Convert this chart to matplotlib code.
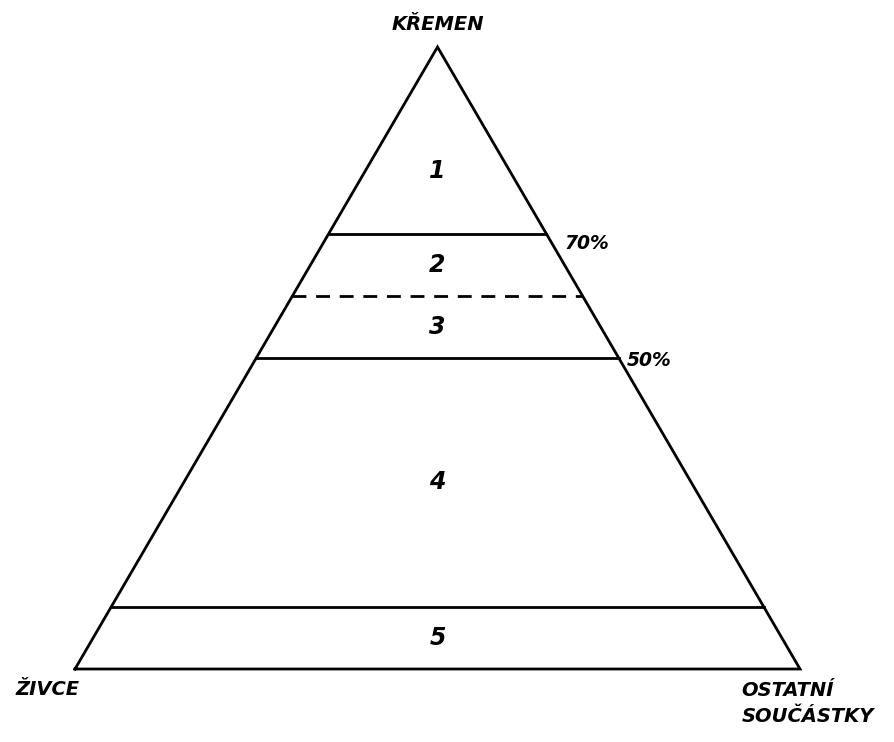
import matplotlib
matplotlib.use("Agg")
import matplotlib.pyplot as plt

# ---- data ----
apex_labels = ["KŘEMEN", "ŽIVCE", "OSTATNÍ\nSOUČÁSTKY"]
boundary_levels = [70, 60, 50, 10]          # quartz % of dividing lines
boundary_dashed = [False, True, False, False]
labelled_levels = [70, 50]                  # levels with a % label
region_names = ["1", "2", "3", "4", "5"]

# ---- style / layout ----
pct_offsets = [(13, -7), (6, -2)]           # label offsets in points

W, H = 895, 742
fig = plt.figure(figsize=(W / 100, H / 100), dpi=100)
L, R, B, T = 75, 800, 669, 47
ax = fig.add_axes([L / W, 1 - B / H, (R - L) / W, (B - T) / H])
ax.set_xlim(0, 1)
ax.set_ylim(0, 1)
ax.axis("off")

lw = 2.0
font = dict(family="DejaVu Sans", style="italic", weight="bold", color="black")

# triangle outline
ax.plot([0, 1, 0.5, 0], [0, 0, 1, 0], color="black", lw=lw, clip_on=False,
        solid_joinstyle="miter")

# dividing lines
for lev, dashed in zip(boundary_levels, boundary_dashed):
    q = lev / 100
    ax.plot([q / 2, 1 - q / 2], [q, q], color="black", lw=lw,
            linestyle=(0, (5, 3.5)) if dashed else "-", clip_on=False)

# percent labels on right edge
for lev, off in zip(labelled_levels, pct_offsets):
    q = lev / 100
    ax.annotate(f"{lev}%", xy=(1 - q / 2, q), xytext=off,
                textcoords="offset points", ha="left", va="center",
                fontsize=13.5, **font)

# region labels
bounds = [100] + boundary_levels + [0]
for name, top, bot in zip(region_names, bounds[:-1], bounds[1:]):
    t, b = top / 100, bot / 100
    if top == 100:
        yc = b + (t - b) / 3
    else:
        yc = (t + b) / 2
    ax.text(0.5, yc, name, ha="center", va="center", fontsize=17, **font)

# apex labels
ax.annotate(apex_labels[0], xy=(0.5, 1), xytext=(0, 16), textcoords="offset points",
            ha="center", va="center", fontsize=14, **font)
ax.annotate(apex_labels[1], xy=(0, 0), xytext=(-20, -15), textcoords="offset points",
            ha="center", va="center", fontsize=14, **font)
ax.annotate(apex_labels[2], xy=(1, 0), xytext=(-42, -25), textcoords="offset points",
            ha="left", va="center", fontsize=14, linespacing=1.45, **font)

fig.savefig("out.png", dpi=100, facecolor="white")
